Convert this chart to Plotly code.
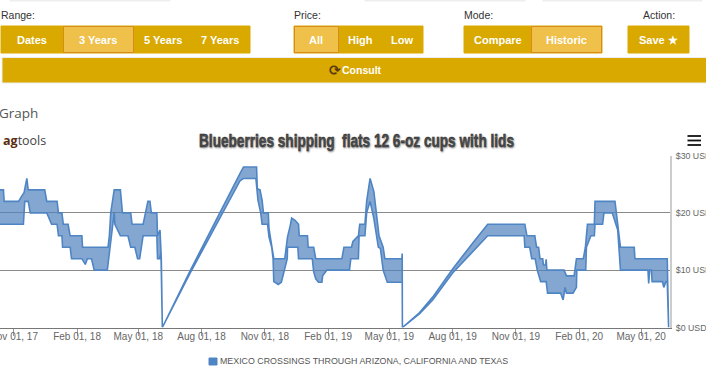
import pandas as pd
import plotly.graph_objects as go

W, H = 706, 376

# Price band, days counted from 2018-02-01
base_date = "2018-02-01"
high_days = [-115,-107,-106,-85,-80,-77,-73,-71,-47,-44,-29,-27,-22,-20,-13,-10,7,8,45,47,49,54,63,66,78,80,96,99,103,106,108,116,117,120.6,122.5,124,
             164,237,242,261,262,266,269,271,278,279,283,286,302,306,310,312,317,322,323,335,336,344,347,385,388,399,401,409,411,418.5,421,426,431.5,435,439,445,447.5,472.2,472.7,473,
             498,517,546,575,597,651,654,665.5,668,671,673,677,678,681,682,683,708,711.5,722.6,726,736,739,742,752,753,782,786,790,810,811,858,859,860]
high_vals = [24,24,22,22,23,23.5,26,24,24,22,22,20,20,18,18,16,16,14,14,16,20,24,24,20,20,18,18,20,22,22,20,20,16,17,12,0,
             9.8,26.9,28,28,24.2,24,22.2,20,20,17.3,14,12,12,15.8,17.8,19.1,18.7,18,16,16,14,14,12,12,14,14,15,16,18,18,22,26,23.7,20,16,14,12,12,12.9,0,
             2.6,5.3,10.2,14.7,18,18,16,16,14,14,12,12,10.9,10.9,11.9,10,10,9,9,12,12,14,18,18,22,22,18,14,14,12,12,8,0]
low_days = [-115,-78,-76,-71,-68,-44,-37,-29,-27,-22,-21,-10,-8,7,12,15,21,25,44,47,50,54,55,63,74,78,84,88,91,96,116,117,120,122,124,
            164,237,242,260,263,267,269,277,279,283,285,286,292.5,297,301,305.6,306,314,321,322,342,344,347,351,356,357,363,396,398,409,410,418.5,421,426,431.5,438,441,445,451,472.7,473,
            498,517,546,575,597,650,651,658,661,666,669,674,682,684,703,706.6,709.5,711.5,721,726,726.5,739.5,740.5,747,752,753,764,766,778,786,789,790,830,831,832.5,835,836,851,853,856,858,860]
low_vals = [18,18,22,22,20,20,18,18,16,16,14,14,12,12,11,12,12,10,10,12,16,20,18,16,16,14,14,12,12,16,16,12,12,13,0,
            9.4,25.6,26,26,22.2,20,18,18,15.8,14,12,8,7.5,7.9,10,12,14,14,14,12,12,9.7,8.5,7.9,7.9,9,10,10,12,12,16,16,20,22,19,14,13.8,10,7.9,7.9,0,
            2.4,4.8,9.5,13.2,16,16,14,14,12,12,10,8,8,6,6,4.8,7,6,6,7,10,10,14,16,16,18,18,20,20,17,12,10,10,7.7,10,10,8,8,7,8,8,0]

x_tick_dates = ["2017-11-01","2018-02-01","2018-05-01","2018-08-01","2018-11-01","2019-02-01","2019-05-01","2019-08-01","2019-11-01","2020-02-01","2020-05-01"]
x_tick_text = ["Nov 01, 17","Feb 01, 18","May 01, 18","Aug 01, 18","Nov 01, 18","Feb 01, 19","May 01, 19","Aug 01, 19","Nov 01, 19","Feb 01, 20","May 01, 20"]
y_tick_vals = [0,10,20,30]
y_tick_text = ["$0 USD","$10 USD","$20 USD","$30 USD"]
series_name = "MEXICO CROSSINGS THROUGH ARIZONA, CALIFORNIA AND TEXAS"
chart_title = "Blueberries shipping  flats 12 6-oz cups with lids"

t0 = pd.Timestamp(base_date)
def to_dates(days):
    return [t0 + pd.Timedelta(days=d) for d in days]

band_x = to_dates(high_days) + to_dates(low_days)[::-1]
band_y = high_vals + low_vals[::-1]

BLUE = "#4f85c4"
fig = go.Figure()
fig.add_trace(go.Scatter(x=band_x, y=band_y, mode="lines", fill="toself", name=series_name,
                         line=dict(color=BLUE, width=1.6),
                         fillcolor="rgba(79,129,189,0.70)", showlegend=False, hoverinfo="skip"))

GOLD, ACTIVE, EDGE = "#d9a900", "#efc04a", "#d98a1c"
shapes, notes = [], []
def px(x): return x / W
def py(y): return 1 - y / H
def rect(x0, y0, x1, y1, fill, line=None, lw=1):
    shapes.append(dict(type="rect", xref="paper", yref="paper", x0=px(x0), x1=px(x1), y0=py(y0), y1=py(y1),
                       fillcolor=fill, line=dict(color=line or fill, width=lw), layer="below"))
def text(x, y, s, size=11, color="#ffffff", anchor="center", family="Liberation Sans", bold=False):
    notes.append(dict(xref="paper", yref="paper", x=px(x), y=py(y), text=f"<b>{s}</b>" if bold else s, showarrow=False,
                      xanchor=anchor, yanchor="middle", font=dict(size=size, color=color, family=family),
                      borderpad=0, borderwidth=0))

for x0, x1 in [(10, 170), (365, 525), (543, 702)]:
    rect(x0, 0, x1, 1, "#eeeeee")
for x, s, a in [(1, "Range:", "left"), (294, "Price:", "left"), (464, "Mode:", "left"), (643, "Action:", "left")]:
    text(x, 15, s, size=10.5, color="#333333", anchor=a)

for x0, x1 in [(1, 250), (294, 423), (464, 602), (628, 689)]:
    rect(x0, 26, x1, 53, GOLD)
for x0, x1 in [(63.5, 133.5), (294.5, 338.5), (531.5, 601.5)]:
    rect(x0, 26.5, x1, 52.5, ACTIVE, EDGE)
for x, s in [(32, "Dates"), (98, "3 Years"), (163, "5 Years"), (220, "7 Years"), (316, "All"), (360, "High"),
             (402, "Low"), (498, "Compare"), (566, "Historic"), (658, "Save ★")]:
    text(x, 40, s, size=11, bold=True)
rect(2, 57.5, 707, 83, GOLD, "#eeeeee")
text(335, 69.5, "⟳", size=14, color="#5a3a10", family="DejaVu Sans", bold=True)
text(362, 70, "Consult", size=10.5, bold=True)

text(-1, 113, "Graph", size=13.5, color="#555555", anchor="left", family="Open Sans")
text(3, 140, "<b><span style='color:#5b2c10'>ag</span></b>tools", size=12.5, color="#444444", anchor="left", family="Open Sans")
for y in (136, 140.5, 145):
    rect(687.5, y - 0.9, 701, y + 0.9, "#111111", lw=0)

rect(209, 358, 217, 365, BLUE)
text(220, 361, series_name, size=8.85, color="#555555", anchor="left")

fig.update_layout(
    width=W, height=H, margin=dict(l=0, r=0, t=0, b=0, pad=0), autosize=False, showlegend=False,
    paper_bgcolor="white", plot_bgcolor="white",
    shapes=shapes, annotations=notes,
    title=dict(text=chart_title, x=356.5 / W, xanchor="center", y=py(140), yanchor="middle", automargin=False,
               font=dict(family="Liberation Sans", size=19, color="#333333", weight="bold",
                         shadow="1px 1px 2px #999999")),
    xaxis=dict(domain=[0, px(670)], range=["2017-10-12", "2020-06-12"], tickmode="array", automargin=False,
               tickvals=x_tick_dates, ticktext=x_tick_text, showgrid=False, zeroline=False,
               ticklabeloverflow="allow", ticklabelstandoff=-8,
               showline=True, linecolor="#777777", linewidth=1, ticks="outside", ticklen=7, tickcolor="#999999",
               tickfont=dict(size=10, color="#666666", family="Liberation Sans")),
    yaxis=dict(domain=[py(327.5), py(155.5)], range=[0, 30], side="right", tickmode="array", automargin=False,
               tickvals=y_tick_vals, ticktext=y_tick_text, showgrid=True, gridcolor="#8a8a8a", gridwidth=1,
               ticklabeloverflow="allow", ticklabelstandoff=2,
               zeroline=False, showline=True, linecolor="#cccccc", linewidth=2, ticks="",
               tickfont=dict(size=8.8, color="#666666", family="Liberation Sans")),
)
post = """
document.documentElement.style.overflow='hidden';
document.body.style.margin='0';document.body.style.overflow='hidden';
var gd=document.querySelector('.plotly-graph-div');gd.style.overflow='hidden';
document.querySelectorAll('.main-svg').forEach(function(s){s.style.overflow='hidden';});
var t=document.querySelector('.gtitle');
if(t){t.setAttribute('textLength','315');t.setAttribute('lengthAdjust','spacingAndGlyphs');
t.style.stroke='#333333';t.style.strokeWidth='0.5px';}
"""
fig.write_html("out.html", config=dict(displayModeBar=False), post_script=post)
